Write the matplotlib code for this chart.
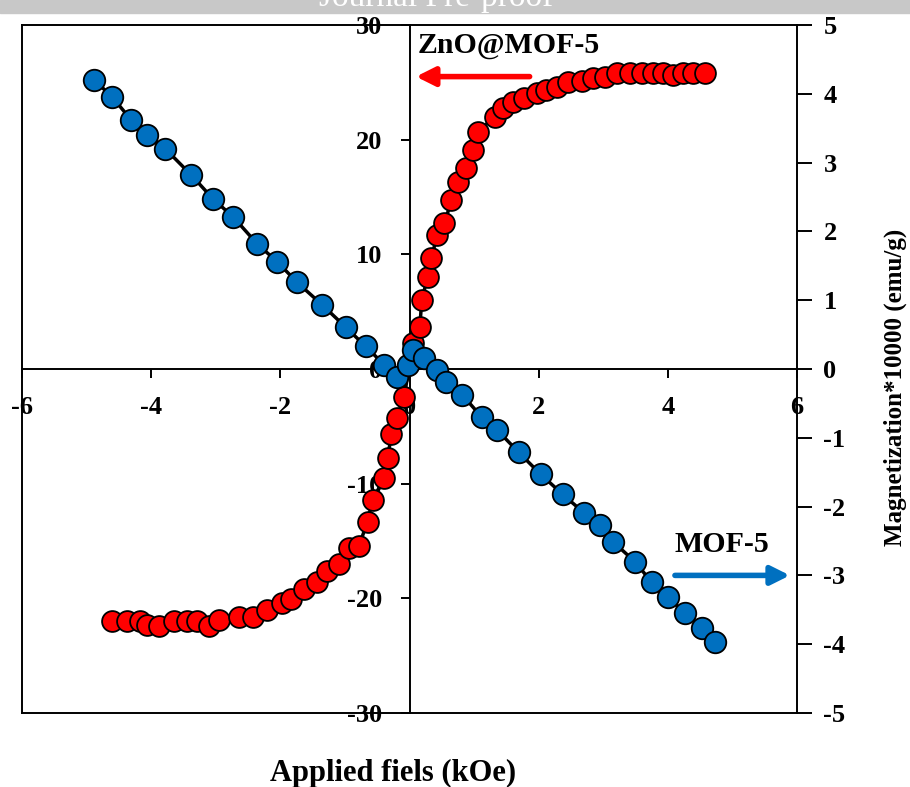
import matplotlib
matplotlib.use('Agg')
import matplotlib.pyplot as plt
from matplotlib.patches import Rectangle

plt.rcParams['font.family'] = 'Liberation Serif'
plt.rcParams['font.weight'] = 'bold'
plt.rcParams['axes.unicode_minus'] = False

# ZnO@MOF-5 (left axis, emu/g)
red_x = [-4.60, -4.37, -4.17, -4.06, -3.88, -3.64, -3.44, -3.29, -3.10, -2.95,
         -2.64, -2.43, -2.20, -1.98, -1.83, -1.63, -1.44, -1.27, -1.09, -0.93,
         -0.78, -0.65, -0.57, -0.39, -0.34, -0.28, -0.20, -0.08, 0.05, 0.16,
         0.19, 0.28, 0.34, 0.43, 0.54, 0.65, 0.75, 0.88, 0.99, 1.06,
         1.32, 1.44, 1.60, 1.78, 1.97, 2.12, 2.29, 2.45, 2.67, 2.84,
         3.02, 3.22, 3.41, 3.60, 3.77, 3.92, 4.08, 4.23, 4.39, 4.57]
red_y = [-22.0, -22.0, -22.0, -22.3, -22.4, -22.0, -22.0, -22.0, -22.4, -21.9,
         -21.6, -21.6, -21.0, -20.4, -20.1, -19.2, -18.6, -17.6, -17.0, -15.6,
         -15.4, -13.3, -11.4, -9.5, -7.8, -5.7, -4.3, -2.4, 2.3, 3.7,
         6.0, 8.0, 9.7, 11.7, 12.7, 14.7, 16.3, 17.5, 19.1, 20.7,
         22.0, 22.8, 23.3, 23.6, 24.1, 24.3, 24.6, 25.0, 25.1, 25.4,
         25.5, 25.8, 25.8, 25.8, 25.8, 25.8, 25.6, 25.8, 25.8, 25.8]

# MOF-5 (right axis, emu/g * 10000)
blue_x = [-4.88, -4.60, -4.31, -4.06, -3.78, -3.38, -3.04, -2.73, -2.36, -2.05,
          -1.74, -1.35, -0.99, -0.68, -0.39, -0.19, -0.03, 0.05, 0.23, 0.42,
          0.57, 0.82, 1.12, 1.36, 1.69, 2.03, 2.37, 2.70, 2.95, 3.15,
          3.49, 3.75, 4.00, 4.26, 4.53, 4.73]
blue_y = [4.20, 3.95, 3.62, 3.40, 3.20, 2.82, 2.47, 2.21, 1.82, 1.56,
          1.26, 0.93, 0.61, 0.33, 0.06, -0.12, 0.06, 0.28, 0.16, -0.01,
          -0.19, -0.38, -0.70, -0.89, -1.21, -1.53, -1.82, -2.09, -2.27, -2.51,
          -2.80, -3.10, -3.31, -3.55, -3.76, -3.97]

x_ticks = [-6, -4, -2, 0, 2, 4, 6]
left_ticks = [-30, -20, -10, 0, 10, 20, 30]
right_ticks = [-5, -4, -3, -2, -1, 0, 1, 2, 3, 4, 5]

fig = plt.figure(figsize=(9.1, 7.87), dpi=100)
ax = fig.add_axes([22 / 910, 74 / 787, 775 / 910, 688 / 787])

ax.plot(red_x, red_y, '-o', color='black', lw=2.5, markersize=15,
        markerfacecolor='#FF0000', markeredgecolor='black', markeredgewidth=1.3,
        zorder=3)
ax.set_xlim(-6, 6)
ax.set_ylim(-30, 30)
ax.spines['left'].set_position(('data', 0))
ax.spines['bottom'].set_position(('data', 0))
ax.spines['top'].set_visible(False)
ax.spines['right'].set_visible(False)
for s in ['left', 'bottom']:
    ax.spines[s].set_linewidth(1.4)
ax.set_xticks(x_ticks)
ax.set_yticks(left_ticks)
ax.tick_params(axis='both', direction='out', length=6.5, width=1.4,
               labelsize=19)
ax.tick_params(axis='x', pad=13)
ax.tick_params(axis='y', pad=13)
ax.patch.set_visible(False)

ax2 = ax.twinx()
ax2.plot(blue_x, blue_y, '-o', color='black', lw=2.5, markersize=15.5,
         markerfacecolor='#0070C0', markeredgecolor='black', markeredgewidth=1.3,
         zorder=3)
ax2.set_ylim(-5, 5)
ax2.set_yticks(right_ticks)
ax2.tick_params(axis='y', direction='out', length=11, width=1.4,
                labelsize=19, pad=8)
for s in ax2.spines.values():
    s.set_linewidth(1.4)
ax2.set_ylabel('Magnetization*10000 (emu/g)', fontsize=18, fontweight='bold')
ax2.yaxis.set_label_coords((884 - 22) / 775, (787 - 387 - 74) / 688)

# annotations
ax2.annotate('', xy=(0.10, 4.25), xytext=(1.86, 4.25),
             arrowprops=dict(arrowstyle='-|>', color='#FF0000', lw=4,
                             mutation_scale=28, shrinkA=0, shrinkB=0))
ax2.text(0.13, 4.70, 'ZnO@MOF-5', fontsize=21.5, fontweight='bold',
         ha='left', va='center')
ax2.annotate('', xy=(5.89, -3.0), xytext=(4.11, -3.0),
             arrowprops=dict(arrowstyle='-|>', color='#0070C0', lw=4,
                             mutation_scale=28, shrinkA=0, shrinkB=0))
ax2.text(4.11, -2.55, 'MOF-5', fontsize=21.5, fontweight='bold',
         ha='left', va='center')

fig.text(393 / 910, 1 - 773 / 787, 'Applied fiels (kOe)', fontsize=22,
         fontweight='bold', ha='center', va='center')

# grey banner at the top
fig.patches.append(Rectangle((0, 1 - 13 / 787), 1, 13 / 787,
                             transform=fig.transFigure, color='#C8C8C8',
                             zorder=0))
fig.text(436 / 910, 1 - 6 / 787, 'Journal Pre-proof', fontsize=24,
         fontweight='normal', color='white', ha='center', va='baseline')

fig.savefig('out.png', dpi=100)
